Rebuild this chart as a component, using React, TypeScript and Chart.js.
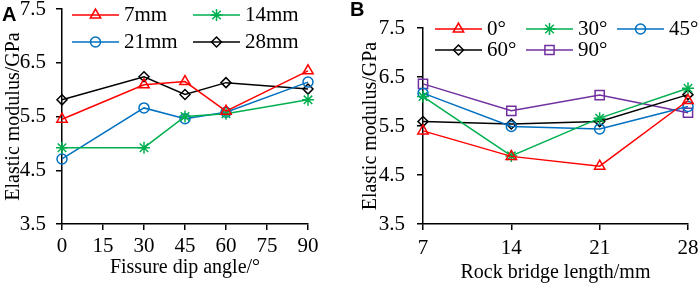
import React, { useEffect, useRef } from "react";
import { Chart, registerables } from "chart.js";
import { drawPoint } from "chart.js/helpers";

Chart.register(...registerables);

// ---------- data ----------
const dipAngles = [0, 30, 45, 60, 90];
const dipTicks = [0, 15, 30, 45, 60, 75, 90];
const bridgeLengths = [7, 14, 21, 28];
const modulusTicks = [3.5, 4.5, 5.5, 6.5, 7.5];

const leftLabels = ["7mm", "14mm", "21mm", "28mm"];
const mm7 = [5.45, 6.09, 6.15, 5.6, 6.35];
const mm14 = [4.92, 4.92, 5.5, 5.55, 5.81];
const mm21 = [4.71, 5.66, 5.46, 5.58, 6.14];
const mm28 = [5.81, 6.24, 5.91, 6.13, 6.01];

const rightLabels = ["0°", "30°", "45°", "60°", "90°"];
const deg0 = [5.4, 4.88, 4.68, 6.02];
const deg30 = [6.1, 4.89, 5.66, 6.27];
const deg45 = [6.17, 5.49, 5.44, 5.9];
const deg60 = [5.59, 5.54, 5.59, 6.14];
const deg90 = [6.36, 5.81, 6.13, 5.77];

// ---------- styles ----------
const RED = "#ff0000";
const GREEN = "#00b050";
const BLUE = "#0070c0";
const BLACK = "#000000";
const PURPLE = "#7030a0";
const SERIF = '"Liberation Serif", "Times New Roman", serif';

Chart.defaults.font.family = SERIF;
Chart.defaults.color = "#000";

const marker = {
  tri: { pointStyle: "triangle", pointRadius: 6 },
  star: { pointStyle: "star", pointRadius: 6 },
  circ: { pointStyle: "circle", pointRadius: 5 },
  dia: { pointStyle: "rectRot", pointRadius: 5 },
  sq: { pointStyle: "rect", pointRadius: 6.5 },
};

function mkDataset(label: string, xs: number[], ys: number[], color: string, m: any) {
  return {
    label,
    data: xs.map((x, i) => ({ x, y: ys[i] })),
    borderColor: color,
    backgroundColor: "rgba(255,255,255,0)",
    pointBorderColor: color,
    pointBackgroundColor: "rgba(255,255,255,0)",
    borderWidth: 1.5,
    pointBorderWidth: 1.5,
    pointStyle: m.pointStyle,
    pointRadius: m.pointRadius,
    tension: 0,
    clip: false as any,
  };
}

const lineLegend = {
  id: "lineLegend",
  afterDatasetsDraw(chart: any, _args: any, opts: any) {
    const { ctx } = chart;
    ctx.save();
    chart.data.datasets.forEach((ds: any, i: number) => {
      const col = i % opts.cols;
      const row = Math.floor(i / opts.cols);
      const x0 = opts.xs[col];
      const y = opts.ys[row];
      ctx.strokeStyle = ds.borderColor;
      ctx.lineWidth = ds.borderWidth;
      ctx.beginPath();
      ctx.moveTo(x0, y);
      ctx.lineTo(x0 + opts.lineLen, y);
      ctx.stroke();
      ctx.fillStyle = "rgba(255,255,255,0)";
      drawPoint(
        ctx,
        { pointStyle: ds.pointStyle, rotation: 0, radius: ds.pointRadius, borderWidth: ds.pointBorderWidth } as any,
        x0 + opts.lineLen / 2,
        y
      );
      ctx.fillStyle = "#000";
      ctx.font = opts.font;
      ctx.textBaseline = "middle";
      ctx.textAlign = "left";
      ctx.fillText(ds.label, x0 + opts.lineLen + opts.gap, y);
    });
    ctx.restore();
  },
};

function makeOptions(p: {
  xMin: number;
  xMax: number;
  xTicks: number[];
  xTitle: string;
  padTop: number;
  padRight: number;
  yWidth: number;
  yTitlePad: number;
  xTitlePad: number;
  xTickPad: number;
  yTickPad: number;
  legend: any;
}) {
  return {
    responsive: false,
    animation: false as const,
    events: [],
    layout: { padding: { left: 0, top: p.padTop, right: p.padRight, bottom: 0 } },
    plugins: {
      legend: { display: false },
      tooltip: { enabled: false },
      lineLegend: p.legend,
    },
    scales: {
      x: {
        type: "linear" as const,
        min: p.xMin,
        max: p.xMax,
        afterBuildTicks: (s: any) => {
          s.ticks = p.xTicks.map((v) => ({ value: v }));
        },
        afterFit: (s: any) => {
          s.height = 64;
          s.paddingLeft = 0;
          s.paddingRight = 0;
        },
        grid: { drawOnChartArea: false, drawTicks: true, tickLength: 6, color: "#000", lineWidth: 1.5 },
        border: { display: true, color: "#000", width: 1.5 },
        ticks: { font: { size: 21 }, padding: p.xTickPad, maxRotation: 0, autoSkip: false, color: "#000" },
        title: { display: true, text: p.xTitle, font: { size: 20 }, padding: { top: 0, bottom: p.xTitlePad }, color: "#000" },
      },
      y: {
        type: "linear" as const,
        min: 3.5,
        max: 7.5,
        afterBuildTicks: (s: any) => {
          s.ticks = modulusTicks.map((v) => ({ value: v }));
        },
        afterFit: (s: any) => {
          s.width = p.yWidth;
          s.paddingTop = 0;
          s.paddingBottom = 0;
        },
        grid: { drawOnChartArea: false, drawTicks: true, tickLength: 6, color: "#000", lineWidth: 1.5 },
        border: { display: true, color: "#000", width: 1.5 },
        ticks: {
          font: { size: 21 },
          padding: p.yTickPad,
          color: "#000",
          callback: (v: any) => Number(v).toFixed(1),
        },
        title: { display: true, text: "Elastic modulus/GPa", font: { size: 20 }, padding: { top: p.yTitlePad, bottom: 0 }, color: "#000" },
      },
    },
  };
}

export default function App() {
  const leftRef = useRef<HTMLCanvasElement>(null);
  const rightRef = useRef<HTMLCanvasElement>(null);

  useEffect(() => {
    const left = new Chart(leftRef.current!, {
      type: "line",
      data: {
        datasets: [
          mkDataset(leftLabels[0], dipAngles, mm7, RED, marker.tri),
          mkDataset(leftLabels[1], dipAngles, mm14, GREEN, marker.star),
          mkDataset(leftLabels[2], dipAngles, mm21, BLUE, marker.circ),
          mkDataset(leftLabels[3], dipAngles, mm28, BLACK, marker.dia),
        ],
      },
      options: makeOptions({
        xMin: 0,
        xMax: 90,
        xTicks: dipTicks,
        xTitle: "Fissure dip angle/°",
        padTop: 9,
        padRight: 41,
        yWidth: 62,
        yTitlePad: 2,
        xTitlePad: 8,
        xTickPad: 4,
        yTickPad: 10,
        legend: { cols: 2, xs: [72, 193], ys: [15, 42], lineLen: 47, gap: 5, font: `21px ${SERIF}` },
      }) as any,
      plugins: [lineLegend as any],
    });

    const right = new Chart(rightRef.current!, {
      type: "line",
      data: {
        datasets: [
          mkDataset(rightLabels[0], bridgeLengths, deg0, RED, marker.tri),
          mkDataset(rightLabels[1], bridgeLengths, deg30, GREEN, marker.star),
          mkDataset(rightLabels[2], bridgeLengths, deg45, BLUE, marker.circ),
          mkDataset(rightLabels[3], bridgeLengths, deg60, BLACK, marker.dia),
          mkDataset(rightLabels[4], bridgeLengths, deg90, PURPLE, marker.sq),
        ],
      },
      options: makeOptions({
        xMin: 7,
        xMax: 28,
        xTicks: bridgeLengths,
        xTitle: "Rock bridge length/mm",
        padTop: 28,
        padRight: 11,
        yWidth: 74,
        yTitlePad: 10,
        xTitlePad: 3,
        xTickPad: 6,
        yTickPad: 12,
        legend: { cols: 3, xs: [86, 177, 268], ys: [29, 50], lineLen: 47, gap: 5, font: `21px ${SERIF}` },
      }) as any,
      plugins: [lineLegend as any],
    });

    return () => {
      left.destroy();
      right.destroy();
    };
  }, []);

  const panelLetter: React.CSSProperties = {
    position: "absolute",
    fontFamily: '"Liberation Sans", Arial, sans-serif',
    fontWeight: "bold",
    fontSize: 20,
    lineHeight: "20px",
    color: "#000",
  };

  return (
    <div style={{ position: "absolute", left: 0, top: 0, width: 699, height: 288, background: "#fff", overflow: "hidden" }}>
      <canvas ref={leftRef} width={349} height={288} style={{ position: "absolute", left: 0, top: 0, width: 349, height: 288 }} />
      <canvas ref={rightRef} width={350} height={288} style={{ position: "absolute", left: 349, top: 0, width: 350, height: 288 }} />
      <div style={{ ...panelLetter, left: 2, top: 4 }}>A</div>
      <div style={{ ...panelLetter, left: 350, top: -1 }}>B</div>
    </div>
  );
}
